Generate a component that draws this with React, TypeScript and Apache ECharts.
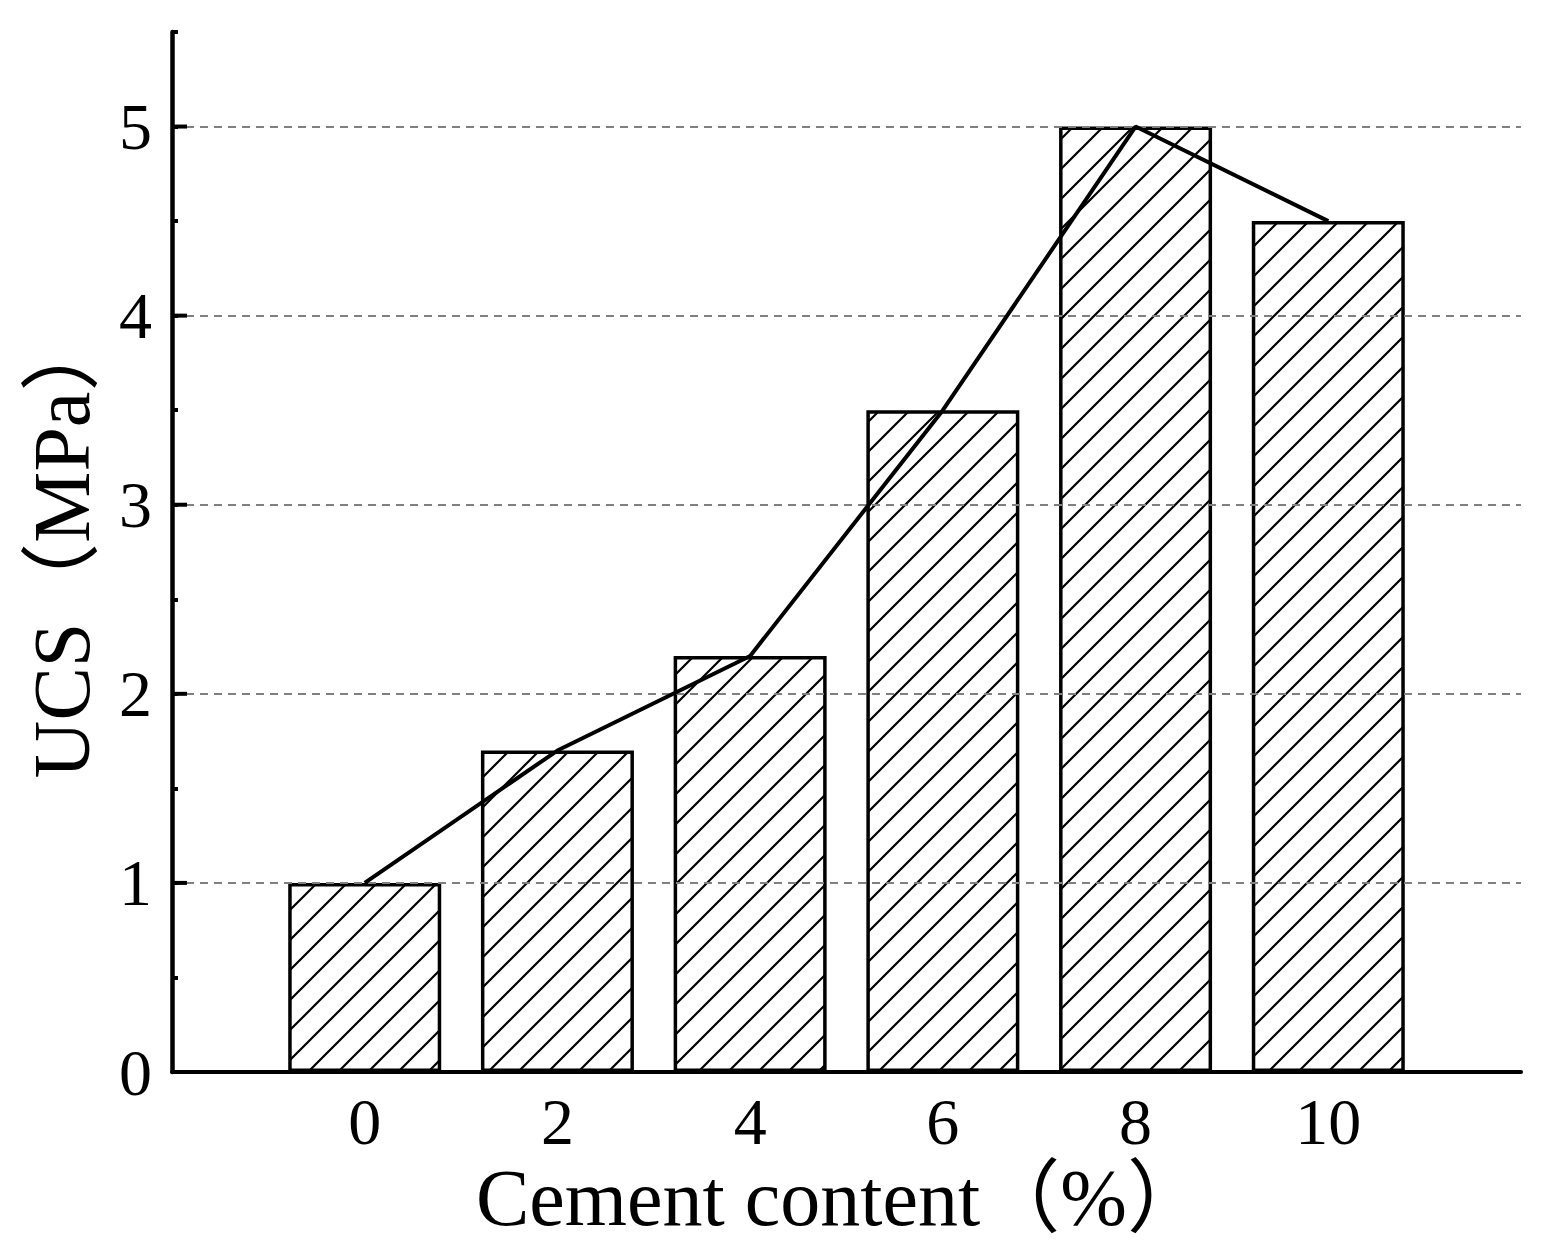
import React, { useEffect, useRef } from "react";
import * as echarts from "echarts";

const cementContent = [0, 2, 4, 6, 8, 10];
const ucsValues = [1.0, 1.7, 2.2, 3.5, 5.0, 4.5];
const yMajorTicks = [0, 1, 2, 3, 4, 5];
const gridLineValues = [1, 2, 3, 4, 5];
const xTickLabels = ["0", "2", "4", "6", "8", "10"];
const X_MIN = -2;
const X_MAX = 12;

const SERIF = "'Liberation Serif', 'Times New Roman', 'DejaVu Serif', 'Noto Sans CJK SC', serif";

const hatchSvg =
  "<svg xmlns='http://www.w3.org/2000/svg' width='30' height='30'>" +
  "<path d='M-2,32 L32,-2 M-17,17 L17,-17 M13,47 L47,13' stroke='black' stroke-width='2.2' fill='none'/>" +
  "</svg>";
const hatchUrl = "data:image/svg+xml;charset=utf-8," + encodeURIComponent(hatchSvg);

export default function App() {
  const ref = useRef<HTMLDivElement>(null);
  useEffect(() => {
    if (!ref.current) return;
    const chart = echarts.init(ref.current, undefined, { renderer: "svg" });
    const points = cementContent.map((x, i) => [x, ucsValues[i]]);
    chart.setOption({
      animation: false,
      backgroundColor: "#ffffff",
      grid: { left: 172, right: 32, top: 32, bottom: 179, containLabel: false },
      xAxis: {
        type: "value",
        min: X_MIN,
        max: X_MAX,
        interval: 2,
        axisLine: { show: true, onZero: false, lineStyle: { color: "#000", width: 4 } },
        axisTick: { show: false },
        splitLine: { show: false },
        axisLabel: {
          margin: 16,
          color: "#000",
          fontFamily: SERIF,
          fontSize: 66,
          formatter: (v: number) => {
            const idx = cementContent.indexOf(v);
            return idx >= 0 ? xTickLabels[idx] : "";
          },
        },
      },
      yAxis: {
        type: "value",
        min: 0,
        max: 5.5,
        interval: 0.5,
        position: "left",
        axisLine: { show: true, onZero: false, lineStyle: { color: "#000", width: 4.5 } },
        axisTick: { show: true, inside: true, length: 6, lineStyle: { color: "#000", width: 4 } },
        splitLine: { show: false },
        axisLabel: {
          margin: 20,
          color: "#000",
          fontFamily: SERIF,
          fontSize: 66,
          formatter: (v: number) => (yMajorTicks.indexOf(v) >= 0 ? String(v) : ""),
        },
      },
      series: [
        {
          type: "bar",
          data: points,
          barWidth: 153,
          itemStyle: {
            color: { image: hatchUrl, repeat: "repeat", imageWidth: 30, imageHeight: 30 } as any,
            borderColor: "#000",
            borderWidth: 3.5,
          },
          markLine: {
            silent: true,
            symbol: "none",
            label: { show: false },
            lineStyle: { color: "#808080", width: 2, type: [8, 6] },
            data: gridLineValues.map((v) => ({ yAxis: v })),
          },
          z: 2,
        },
        {
          type: "line",
          data: points,
          symbol: "none",
          lineStyle: { color: "#000", width: 4 },
          z: 5,
        },
        {
          type: "custom",
          silent: true,
          clip: false,
          z: 10,
          data: yMajorTicks.map((v) => [X_MIN, v]),
          renderItem: (params: any, api: any) => {
            const p = api.coord([api.value(0), api.value(1)]);
            return {
              type: "line",
              shape: { x1: p[0], y1: p[1], x2: p[0] + 15, y2: p[1] },
              style: { stroke: "#000", lineWidth: 4 },
            };
          },
        },
      ],
      graphic: [
        {
          type: "text",
          x: 476,
          y: 1198,
          style: {
            text: "Cement content（%）",
            fontFamily: SERIF,
            fontSize: 80,
            fill: "#000",
            align: "left",
            verticalAlign: "middle",
          },
        },
        {
          type: "text",
          x: 62,
          y: 545,
          rotation: Math.PI / 2,
          style: {
            text: "UCS（MPa）",
            fontFamily: SERIF,
            fontSize: 80,
            fill: "#000",
            align: "center",
            verticalAlign: "middle",
          },
        },
      ],
    });
    return () => chart.dispose();
  }, []);
  return (
    <div
      ref={ref}
      style={{ position: "fixed", left: 0, top: 0, width: 1553, height: 1251, background: "#fff" }}
    />
  );
}
